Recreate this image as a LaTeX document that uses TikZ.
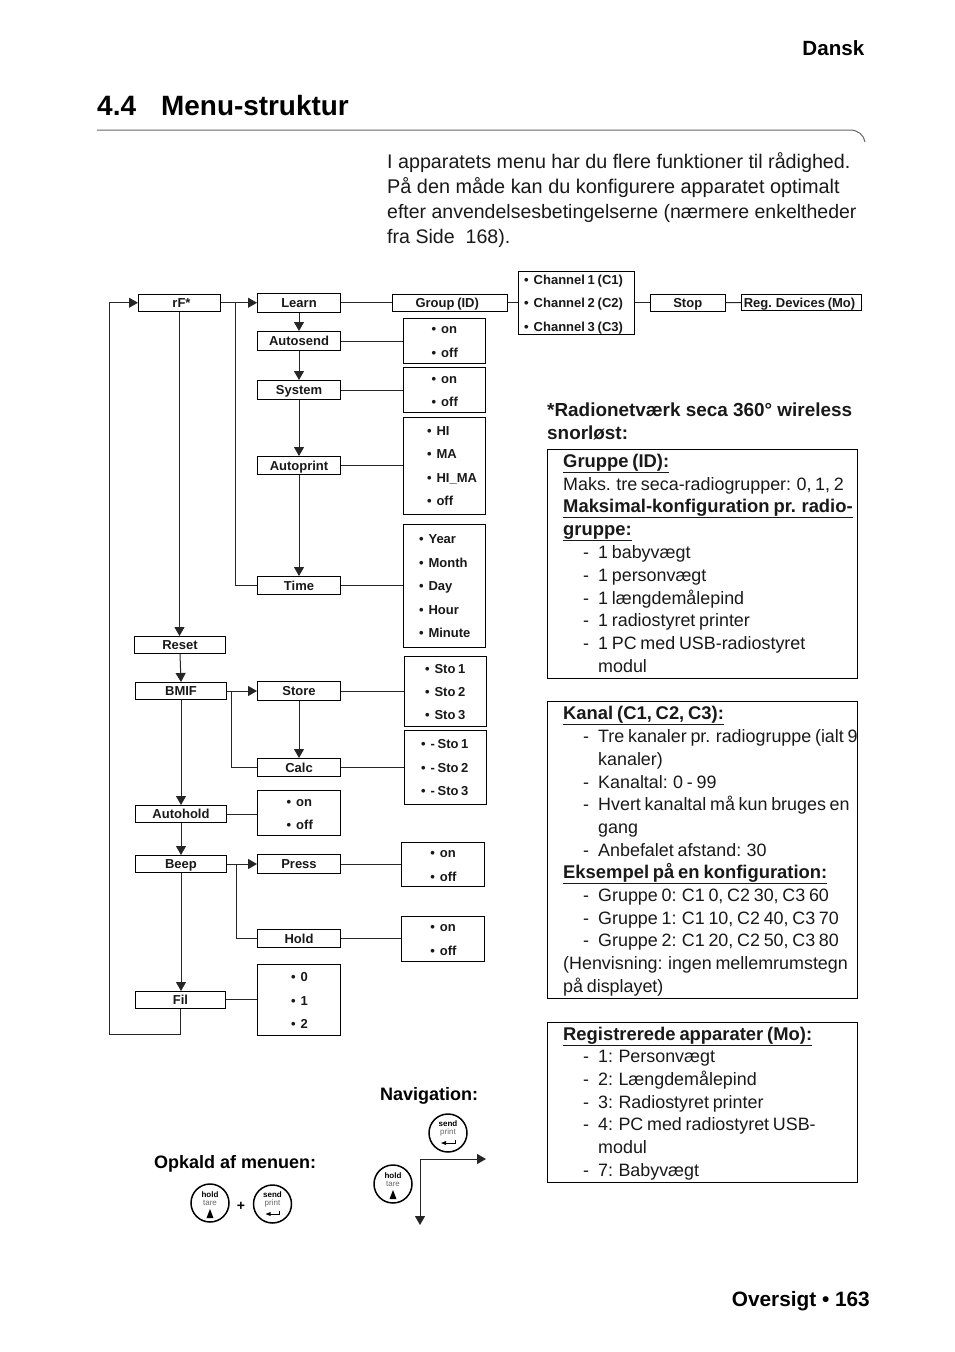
\documentclass[tikz,border=0pt]{standalone}
\usepackage{fontspec}
\setmainfont{Liberation Sans}
\newfontfamily\tightfont[WordSpace=0.75]{Liberation Sans}
\usetikzlibrary{arrows.meta}
\definecolor{ink}{gray}{0.1}
\tikzset{
  x=1pt,y=-1pt,
  mbox/.style={draw=black,line width=1pt,inner sep=0pt,text height=9pt,text depth=0pt,font=\tightfont\fontsize{13}{14}\selectfont\bfseries,text=ink},
  conn/.style={line width=1pt,draw=black!85},
  arr/.style={conn,-{Triangle[length=9pt,width=10pt]}},
  opt/.style={anchor=base west,inner sep=0pt,font=\tightfont\fontsize{13}{14}\selectfont\bfseries,text=ink},
  body/.style={anchor=base west,inner sep=0pt,font=\tightfont\fontsize{17.9}{20}\selectfont,text=ink},
  bodyb/.style={body,font=\tightfont\fontsize{18.4}{20}\selectfont\bfseries},
  intro/.style={anchor=base west,inner sep=0pt,text=ink},
  btn/.style={circle,draw=black,line width=1.5pt,minimum size=38pt,inner sep=0pt},
  btnb/.style={inner sep=0pt,font=\fontsize{8}{8}\selectfont\bfseries},
  btnr/.style={inner sep=0pt,font=\fontsize{8}{8}\selectfont,text=black!60},
  panel/.style={draw=black,line width=1pt}
}
\newcommand{\bx}[6]{\node[mbox,minimum width=#4pt-#2pt,minimum height=#5pt-#3pt] (#1) at ({(#2+#4)/2},{(#3+#5)/2}) {#6};}
\newcommand{\op}[3]{\node[opt] at (#1,#2) {•\hspace{5pt}#3};}
\newcommand{\ulx}[1]{\underline{#1}}
\newcommand{\lst}[2]{\node[body] at (583,#1) {-}; \node[body] at (598,#1) {#2};}
\newcommand{\holdbtn}[3]{%
  \node[btn] (#1) at (#2,#3) {};
  \node[btnb] at (#2,#3-8) {hold};
  \node[btnr] at (#2,#3) {tare};
  \fill (#2-3.5,#3+15) -- (#2+3.5,#3+15) -- (#2,#3+6) -- cycle;}
\newcommand{\sendbtn}[3]{%
  \node[btn] (#1) at (#2,#3) {};
  \node[btnb] at (#2,#3-9) {send};
  \node[btnr] at (#2,#3-1) {print};
  \draw[line width=.7pt] (#2+7,#3+7) -- (#2+7,#3+10) -- (#2-3,#3+10);
  \fill (#2-7,#3+10) -- (#2-2,#3+8) -- (#2-2,#3+12) -- cycle;}
\begin{document}
\begin{tikzpicture}
\useasboundingbox (0,0) rectangle (954,1352);
\fill[white] (0,0) rectangle (954,1352);
% header
\node[anchor=base east,inner sep=0pt,font=\fontsize{20.6}{24}\selectfont\bfseries] (dansk) at (864.5,55) {Dansk};
\node[anchor=base west,inner sep=0pt,font=\fontsize{28}{32}\selectfont\bfseries] (num) at (97,115) {4.4};
\node[anchor=base west,inner sep=0pt,font=\fontsize{27.9}{32}\selectfont\bfseries] (title) at (161,115) {Menu-struktur};
\draw[line width=1pt,black!60] (97,130) -- (850,130) .. controls (858,130) and (864,135) .. (865,142);
\node[anchor=base east,inner sep=0pt,font=\fontsize{20.8}{24}\selectfont\bfseries] (foot) at (870,1306) {Oversigt • 163};
% intro
\node[intro,font=\fontsize{19.7}{22}\selectfont] at (387,168) {I apparatets menu har du flere funktioner til rådighed.};
\node[intro,font=\fontsize{19.85}{22}\selectfont] at (387,193) {På den måde kan du konfigurere apparatet optimalt};
\node[intro,font=\fontsize{19.5}{22}\selectfont] at (387,218) {efter anvendelsesbetingelserne (nærmere enkeltheder};
\node[intro,font=\fontsize{19.6}{22}\selectfont] at (387,243) {fra Side\ \ 168).};
% menu boxes
\bx{rf}{138.5}{294.5}{220.5}{311}{\hspace*{4pt}rF*}
\bx{learn}{257.5}{293.5}{340.5}{312}{Learn}
\bx{group}{392.5}{294.5}{507}{311}{Group (ID)\hspace*{5pt}}
\bx{chan}{518.5}{271.5}{634.5}{334.5}{}
\bx{stop}{650.5}{294.5}{725}{311}{Stop}
\bx{reg}{741.5}{294.5}{861.5}{310.5}{\hspace*{-4pt}Reg. Devices (Mo)}
\bx{autosend}{257.5}{331.5}{340.5}{350.5}{Autosend}
\bx{system}{257.5}{380.5}{340.5}{399.5}{System}
\bx{autoprint}{257.5}{456.5}{340.5}{474.5}{Autoprint}
\bx{time}{257.5}{576.5}{340.5}{594.5}{Time}
\bx{ob1}{403.5}{318.5}{485.5}{363.5}{}
\bx{ob2}{403.5}{367.5}{485.5}{412.5}{}
\bx{ob3}{403.5}{417.5}{485.5}{514}{}
\bx{ob4}{403.5}{524.5}{485.5}{647.5}{}
\bx{reset}{134.5}{636.5}{225.5}{653.5}{Reset}
\bx{bmif}{135.5}{682.5}{226.5}{699.5}{BMIF}
\bx{store}{257.5}{681.5}{340.5}{700.5}{Store}
\bx{calc}{257.5}{758.5}{340.5}{776.5}{Calc}
\bx{ob5}{404.5}{656.5}{486.5}{726.5}{}
\bx{ob6}{404.5}{730.5}{486.5}{804}{}
\bx{autohold}{135.5}{805.5}{226.5}{822.5}{Autohold}
\bx{ob7}{257.5}{790.5}{340.5}{835.5}{}
\bx{beep}{135.5}{855.5}{226.5}{872.5}{Beep}
\bx{press}{257.5}{854.5}{340.5}{873.5}{Press}
\bx{hold}{257.5}{929.5}{340.5}{947.5}{Hold}
\bx{ob8}{401.5}{842.5}{484.5}{886.5}{}
\bx{ob9}{401.5}{916.5}{484.5}{961.5}{}
\bx{fil}{135.5}{991.5}{225.5}{1008}{Fil}
\bx{ob10}{257.5}{964.5}{340.5}{1035.5}{}
% options
\op{524}{284}{Channel 1 (C1)} \op{524}{307}{Channel 2 (C2)} \op{524}{331}{Channel 3 (C3)}
\op{431.5}{333}{on} \op{431.5}{357}{off}
\op{431.5}{383}{on} \op{431.5}{406}{off}
\op{426.8}{435}{HI} \op{426.8}{458}{MA} \op{426.8}{482}{HI\_MA} \op{426.8}{505}{off}
\op{418.8}{543}{Year} \op{418.8}{567}{Month} \op{418.8}{590}{Day} \op{418.8}{614}{Hour} \op{418.8}{637}{Minute}
\op{424.8}{673}{Sto 1} \op{424.8}{696}{Sto 2} \op{424.8}{719}{Sto 3}
\op{420.8}{748}{- Sto 1} \op{420.8}{772}{- Sto 2} \op{420.8}{795}{- Sto 3}
\op{286.5}{806}{on} \op{286.5}{829}{off}
\op{430.2}{857}{on} \op{430.2}{881}{off}
\op{430.2}{931}{on} \op{430.2}{955}{off}
\op{291}{981}{0} \op{291}{1005}{1} \op{291}{1028}{2}
% connectors
\coordinate (back) at (109,1034.5);
\coordinate (br1) at (235,302.5);
\coordinate (br2) at (231,691);
\coordinate (br3) at (236,864);
\draw[arr] (rf.east) -- (learn.west);
\draw[conn] (br1) |- (time.west);
\draw[conn] (learn.east) -- (group.west);
\draw[conn] (group.east) -- (group.east -| chan.west);
\draw[conn] (chan.east |- stop.west) -- (stop.west);
\draw[conn] (stop.east) -- (reg.west);
\draw[arr] (learn.south) -- (autosend.north);
\draw[arr] (autosend.south) -- (system.north);
\draw[arr] (system.south) -- (autoprint.north);
\draw[arr] (autoprint.south) -- (time.north);
\draw[conn] (autosend.east) -- (autosend.east -| ob1.west);
\draw[conn] (system.east) -- (system.east -| ob2.west);
\draw[conn] (autoprint.east) -- (autoprint.east -| ob3.west);
\draw[conn] (time.east) -- (time.east -| ob4.west);
\draw[arr] (rf.south) -- (rf.south |- reset.north);
\draw[arr] (reset.south) -- (bmif.north);
\draw[arr] (bmif.south) -- (autohold.north);
\draw[arr] (autohold.south) -- (beep.north);
\draw[arr] (beep.south) -- (fil.north -| beep.south);
\draw[arr] (bmif.east) -- (bmif.east -| store.west);
\draw[conn] (br2) |- (calc.west);
\draw[arr] (store.south) -- (calc.north);
\draw[conn] (store.east) -- (store.east -| ob5.west);
\draw[conn] (calc.east) -- (calc.east -| ob6.west);
\draw[conn] (autohold.east) -- (autohold.east -| ob7.west);
\draw[arr] (beep.east) -- (beep.east -| press.west);
\draw[conn] (br3) |- (hold.west);
\draw[conn] (press.east) -- (press.east -| ob8.west);
\draw[conn] (hold.east) -- (hold.east -| ob9.west);
\draw[conn] (fil.east) -- (fil.east -| ob10.west);
\draw[arr] (fil.south) |- (back) |- (rf.west);
% right panels
\node[bodyb,font=\fontsize{18.9}{20}\selectfont\bfseries] at (547,416) {*Radionetværk seca 360° wireless};
\node[bodyb,font=\fontsize{18.9}{20}\selectfont\bfseries] at (547,439) {snorløst:};
\node[panel,minimum width=310pt,minimum height=229pt,inner sep=0pt] (p1) at (702.5,564) {};
\node[panel,minimum width=310pt,minimum height=297pt,inner sep=0pt] (p2) at (702.5,850) {};
\node[panel,minimum width=310pt,minimum height=160pt,inner sep=0pt] (p3) at (702.5,1102.5) {};
\node[bodyb] at (563,467) {\ulx{Gruppe (ID):}};
\node[body] at (563,490) {Maks. tre seca-radiogrupper: 0, 1, 2};
\node[bodyb] at (563,512) {\ulx{Maksimal-konfiguration pr. radio-}};
\node[bodyb] at (563,535) {\ulx{gruppe:}};
\lst{558}{1 babyvægt}
\lst{581}{1 personvægt}
\lst{604}{1 længdemålepind}
\lst{626}{1 radiostyret printer}
\lst{649}{1 PC med USB-radiostyret}
\node[body] at (598,672) {modul};
\node[bodyb] at (563,719) {\ulx{Kanal (C1, C2, C3):}};
\lst{742}{Tre kanaler pr. radiogruppe (ialt 9}
\node[body] at (598,765) {kanaler)};
\lst{788}{Kanaltal: 0 - 99}
\lst{810}{Hvert kanaltal må kun bruges en}
\node[body] at (598,833) {gang};
\lst{856}{Anbefalet afstand: 30}
\node[bodyb] at (563,878) {\ulx{Eksempel på en konfiguration:}};
\lst{901}{Gruppe 0: C1 0, C2 30, C3 60}
\lst{924}{Gruppe 1: C1 10, C2 40, C3 70}
\lst{946}{Gruppe 2: C1 20, C2 50, C3 80}
\node[body] at (563,969) {(Henvisning: ingen mellemrumstegn};
\node[body] at (563,992) {på displayet)};
\node[bodyb] at (563,1040) {\ulx{Registrerede apparater (Mo):}};
\lst{1062}{1: Personvægt}
\lst{1085}{2: Længdemålepind}
\lst{1108}{3: Radiostyret printer}
\lst{1130}{4: PC med radiostyret USB-}
\node[body] at (598,1153) {modul};
\lst{1176}{7: Babyvægt}
% navigation
\node[anchor=base west,inner sep=0pt,font=\fontsize{18}{20}\selectfont\bfseries] at (380,1100) {Navigation:};
\node[anchor=base west,inner sep=0pt,font=\fontsize{18}{20}\selectfont\bfseries] at (154,1168) {Opkald af menuen:};
\holdbtn{h1}{210}{1203}
\sendbtn{s1}{272.5}{1204}
\node[inner sep=0pt,font=\fontsize{14}{14}\selectfont\bfseries] (plus) at (241,1206) {+};
\sendbtn{s2}{448}{1133}
\holdbtn{h2}{393}{1184}
\coordinate (corner) at (420,1159);
\coordinate (navr) at (486,1159);
\coordinate (navd) at (420,1225);
\draw[arr] (corner) -- (navr);
\draw[arr] (corner) -- (navd);
\end{tikzpicture}
\end{document}
